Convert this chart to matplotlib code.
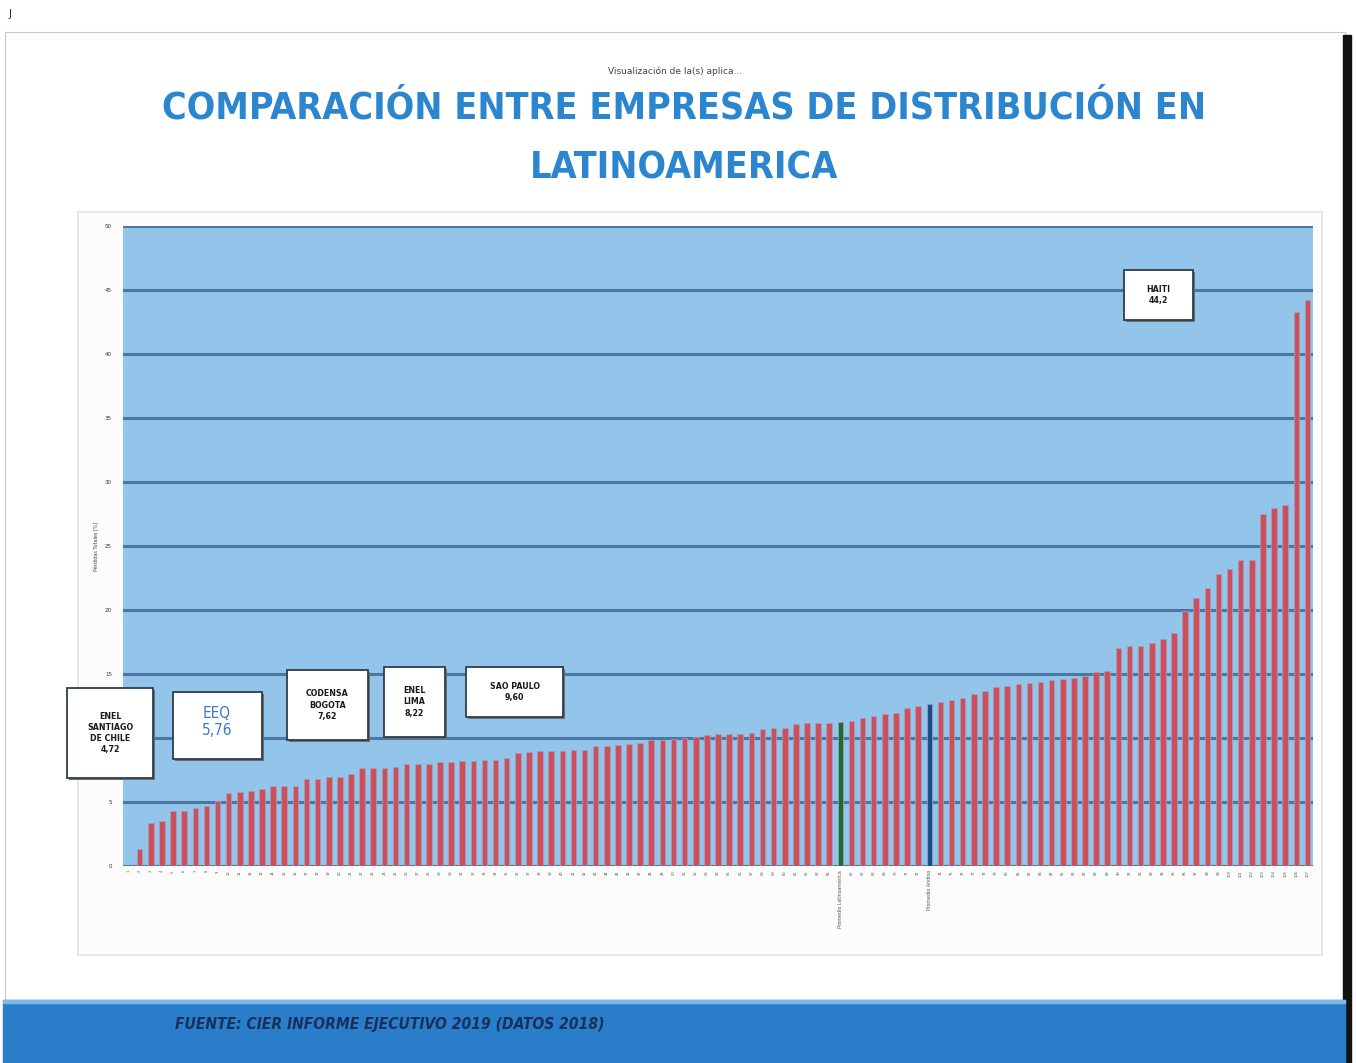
import matplotlib
matplotlib.use("Agg")
import matplotlib.pyplot as plt
from matplotlib.patches import Rectangle

W, H = 1356, 1063

# perdidas totales (%) por empresa, ordenadas de menor a mayor
perdidas = [
    0.0, 1.34, 3.37, 3.55, 4.28, 4.28, 4.55, 4.72, 5.10, 5.70, 5.76,
    5.85, 6.03, 6.23, 6.23, 6.23, 6.80, 6.80, 6.94, 6.94, 7.15,
    7.62, 7.67, 7.67, 7.75, 7.93, 7.95, 7.98, 8.14, 8.14, 8.19,
    8.22, 8.32, 8.32, 8.45, 8.79, 8.89, 8.97, 8.97, 9.02, 9.10,
    9.10, 9.36, 9.36, 9.44, 9.55, 9.60, 9.88, 9.88, 9.94, 9.97,
    10.1, 10.2, 10.3, 10.3, 10.3, 10.4, 10.7, 10.8, 10.8, 11.1,
    11.2, 11.2, 11.2, 11.25, 11.3, 11.6, 11.7, 11.9, 11.95, 12.35,
    12.5, 12.65, 12.8, 13.0, 13.1, 13.45, 13.7, 13.95, 14.05, 14.2,
    14.3, 14.4, 14.5, 14.6, 14.7, 14.85, 15.15, 15.2, 17.0, 17.2,
    17.2, 17.4, 17.7, 18.2, 19.9, 20.9, 21.7, 22.85, 23.2, 23.9,
    23.9, 27.5, 28.0, 28.2, 43.3, 44.2,
]
etiquetas = [str(k) for k in range(1, len(perdidas) + 1)]
etiquetas[64] = "Promedio Latinoamérica"
etiquetas[72] = "Promedio Andino"
idx_verde = 64
idx_azul = 72
y_ticks = [0, 5, 10, 15, 20, 25, 30, 35, 40, 45, 50]

# cuadros de texto: (texto, x0, y0, x1, y1) en pixeles
cuadros = [
    ("ENEL\nSANTIAGO\nDE CHILE\n4,72", 67, 688, 153, 778),
    ("CODENSA\nBOGOTA\n7,62", 287, 670, 368, 740),
    ("ENEL\nLIMA\n8,22", 384, 667, 445, 737),
    ("SAO PAULO\n9,60", 466, 667, 563, 717),
    ("HAITI\n44,2", 1124, 270, 1193, 320),
]

FAM = ["DejaVu Sans"]


def fx(px):
    return px / W


def fy(py):
    return 1 - py / H


def ajustar(t, ancho):
    # ajusta el tamano de letra para que el texto mida 'ancho' pixeles
    r = fig.canvas.get_renderer()
    bb = t.get_window_extent(r)
    t.set_fontsize(t.get_fontsize() * ancho / bb.width)
    return t.get_fontsize()


fig = plt.figure(figsize=(W / 100, H / 100), dpi=100, facecolor="white")

# marco de la diapositiva
fig.patches.append(Rectangle((fx(5), fy(1000)), fx(1340), fy(32) - fy(1000),
                             transform=fig.transFigure, fill=False,
                             edgecolor="#c8c8c8", lw=0.8, zorder=0))
fig.patches.append(Rectangle((fx(1343), fy(1063)), fx(8), fy(35) - fy(1063),
                             transform=fig.transFigure, color="#111111", zorder=1))
fig.text(fx(8), fy(14), "J", fontsize=7, ha="left", va="center", color="#222222")

# panel del grafico
fig.patches.append(Rectangle((fx(78), fy(955)), fx(1244), fy(212) - fy(955),
                             transform=fig.transFigure, facecolor="#fcfcfc",
                             edgecolor="#e3e3e3", lw=1.2, zorder=0))

fig.text(fx(675), fy(71), "Visualización de la(s) aplica...", fontsize=6.5,
         ha="center", va="center", color="#444444")
t1 = fig.text(fx(684), fy(108), "COMPARACIÓN ENTRE EMPRESAS DE DISTRIBUCIÓN EN",
              fontsize=30, fontweight="bold", family=FAM, fontstretch="condensed",
              color="#2b86cf", ha="center", va="center")
fs = ajustar(t1, 1040)
fig.text(fx(684), fy(168), "LATINOAMERICA", fontsize=fs, fontweight="bold",
         family=FAM, fontstretch="condensed", color="#2b86cf",
         ha="center", va="center")

ax = fig.add_axes([fx(123), fy(866), fx(1190), fy(226) - fy(866)])
ax.set_zorder(2)
ax.set_facecolor("#93c4e9")
x = list(range(len(perdidas)))
colores = ["#cc4f5b"] * len(perdidas)
colores[idx_verde] = "#1f6b32"
colores[idx_azul] = "#1b4e86"
ax.bar(x, perdidas, width=0.5, color=colores, edgecolor="#a99fb9",
       linewidth=0.5, zorder=3)
ax.set_xlim(-0.5, len(perdidas) - 0.5)
ax.set_ylim(0, 50)
ax.set_yticks(y_ticks)
ax.set_yticklabels([str(v) for v in y_ticks], fontsize=4, color="#333333")
ax.set_xticks(x)
ax.set_xticklabels(etiquetas, rotation=90, fontsize=2.6, color="#555555")
for i in (idx_verde, idx_azul):
    ax.get_xticklabels()[i].set_fontsize(3.4)
ax.tick_params(length=0, pad=8)
ax.tick_params(axis="x", pad=3)
for v in y_ticks:
    ax.axhline(v, color="#4a78a3", lw=2.2, zorder=2)
for s in ax.spines.values():
    s.set_visible(False)
ax.set_ylabel("Pérdidas Totales [%]", fontsize=3.5, color="#444444", labelpad=4)

# cuadros de anotacion
for texto, x0, y0, x1, y1 in cuadros:
    fig.patches.append(Rectangle((fx(x0 + 2), fy(y1 + 2)), fx(x1 - x0), fy(y0) - fy(y1),
                                 transform=fig.transFigure, facecolor="#6d6d6d",
                                 edgecolor="none", zorder=5))
    fig.patches.append(Rectangle((fx(x0), fy(y1)), fx(x1 - x0), fy(y0) - fy(y1),
                                 transform=fig.transFigure, facecolor="white",
                                 edgecolor="#2f3e4a", lw=1.3, zorder=6))
    fig.text(fx((x0 + x1) / 2), fy((y0 + y1) / 2), texto, fontsize=6.3,
             fontweight="bold", family=FAM, fontstretch="condensed",
             ha="center", va="center", linespacing=1.3, color="#1a1a1a", zorder=7)

# cuadro EEQ
fig.patches.append(Rectangle((fx(175), fy(761)), fx(89), fy(692) - fy(759),
                             transform=fig.transFigure, facecolor="#6d6d6d",
                             edgecolor="none", zorder=5))
fig.patches.append(Rectangle((fx(173), fy(759)), fx(89), fy(692) - fy(759),
                             transform=fig.transFigure, facecolor="white",
                             edgecolor="#2f3e4a", lw=1.3, zorder=6))
fig.text(fx(217), fy(722), "EEQ\n5,76", fontsize=11, family=FAM,
         fontstretch="condensed", ha="center", va="center", color="#3d78c4",
         linespacing=1.1, zorder=7)

# franja inferior
fig.patches.append(Rectangle((fx(3), 0), fx(1342), fy(1000), transform=fig.transFigure,
                             color="#2a7dc8", zorder=1))
fig.patches.append(Rectangle((fx(3), fy(1003)), fx(1342), fy(1000) - fy(1003),
                             transform=fig.transFigure, color="#7fb8e6", zorder=2))
t2 = fig.text(fx(175), fy(1025), "FUENTE: CIER INFORME EJECUTIVO 2019 (DATOS 2018)",
              fontsize=14, style="italic", fontweight="bold", family=FAM,
              fontstretch="condensed", color="#17305c",
              ha="left", va="center", zorder=3)
ajustar(t2, 432)

fig.savefig("out.png", dpi=100, facecolor="white")
